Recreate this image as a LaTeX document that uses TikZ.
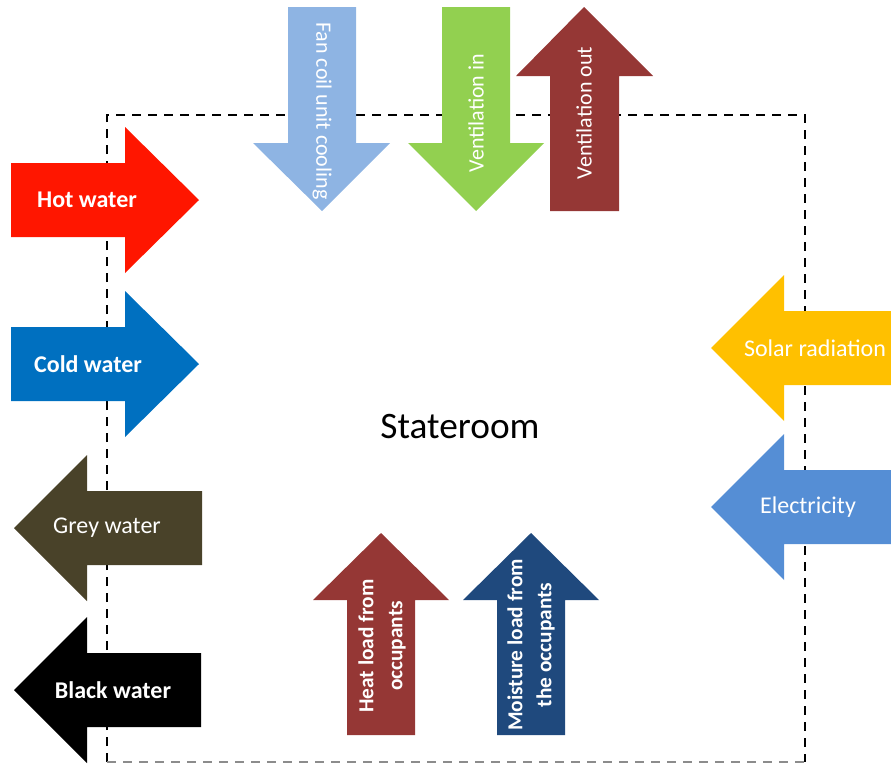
\documentclass[tikz,border=0pt]{standalone}
\usepackage{fontspec}
\setmainfont{Carlito}
\definecolor{hotred}{RGB}{255,22,0}
\definecolor{coldblue}{RGB}{0,112,192}
\definecolor{greybrown}{RGB}{73,66,41}
\definecolor{solaryellow}{RGB}{255,192,0}
\definecolor{elecblue}{RGB}{85,142,213}
\definecolor{fanblue}{RGB}{142,180,227}
\definecolor{ventgreen}{RGB}{146,208,80}
\definecolor{darkred}{RGB}{149,55,53}
\definecolor{navy}{RGB}{31,73,125}
\tikzset{
  boundary/.style={line width=1.9pt, dash pattern=on 6.5pt off 5.5pt},
  hlbl/.style={text=white, inner sep=0pt, font=\fontsize{18}{21}\selectfont},
  hlblb/.style={hlbl, font=\fontsize{18}{21}\selectfont\bfseries},
  vlbl/.style={text=white, inner sep=0pt, font=\fontsize{16.5}{20}\selectfont},
  vlblb/.style={text=white, inner sep=0pt, align=center, rotate=90, font=\fontsize{16}{21.7}\selectfont\bfseries},
}
\begin{document}
\begin{tikzpicture}[x=0.75pt, y=-0.75pt]
\useasboundingbox (0,0) rectangle (891,764);
% boundary of the stateroom
\draw[boundary] (107,762) -- (107,115) -- (805,115) -- (805,762);
\draw[boundary, color=black!45] (107,762) -- (805,762);

% left arrows (in)
\fill[hotred] (11,163) -- (125,163) -- (125,127) -- (199,200) -- (125,273) -- (125,237) -- (11,237) -- cycle;
\fill[coldblue] (11,327) -- (125,327) -- (125,291) -- (199,364) -- (125,437) -- (125,401) -- (11,401) -- cycle;
% left arrows (out)
\fill[greybrown] (202,491) -- (87,491) -- (87,455) -- (14,528) -- (87,601) -- (87,565) -- (202,565) -- cycle;
\fill[black] (201,653) -- (87,653) -- (87,617) -- (14,690) -- (87,763) -- (87,727) -- (201,727) -- cycle;
% right arrows
\fill[solaryellow] (891,311) -- (784,311) -- (784,275) -- (711,348) -- (784,421) -- (784,385) -- (891,385) -- cycle;
\fill[elecblue] (891,470) -- (784,470) -- (784,434) -- (711,507) -- (784,580) -- (784,544) -- (891,544) -- cycle;
% top arrows
\fill[fanblue] (288,7) -- (356,7) -- (356,143) -- (390,143) -- (322,211) -- (253,143) -- (288,143) -- cycle;
\fill[ventgreen] (442,7) -- (510,7) -- (510,143) -- (544,143) -- (476,211) -- (408,143) -- (442,143) -- cycle;
\fill[darkred] (550,211) -- (619,211) -- (619,76) -- (653,76) -- (584,7) -- (516,76) -- (550,76) -- cycle;
% bottom arrows
\fill[darkred] (347,735) -- (415,735) -- (415,600) -- (449,600) -- (381,533) -- (313,600) -- (347,600) -- cycle;
\fill[navy] (497,735) -- (565,735) -- (565,600) -- (599,600) -- (531,533) -- (463,600) -- (497,600) -- cycle;

% labels
\node[hlblb] (hot) at (87,200) {Hot water};
\node[hlblb] (cold) at (88,364) {Cold water};
\node[hlbl] (grey) at (107,528) {Grey water};
\node[hlblb] (blackw) at (113,690) {Black water};
\node[hlbl] (solar) at (815,348) {Solar radiation};
\node[hlbl] (elec) at (808,507) {Electricity};
\node[vlbl, rotate=-90] (fan) at (322,111) {Fan coil unit cooling};
\node[vlbl, rotate=90] (ventin) at (476,113) {Ventilation in};
\node[vlbl, rotate=90] (ventout) at (584,113) {Ventilation out};
\node[vlblb] (heat) at (382,646) {Heat load from\\occupants};
\node[vlblb] (moist) at (531,645) {Moisture load from\\the occupants};
\node[inner sep=0pt, font=\fontsize{28}{32}\selectfont] (room) at (460,427) {Stateroom};
\end{tikzpicture}
\end{document}
